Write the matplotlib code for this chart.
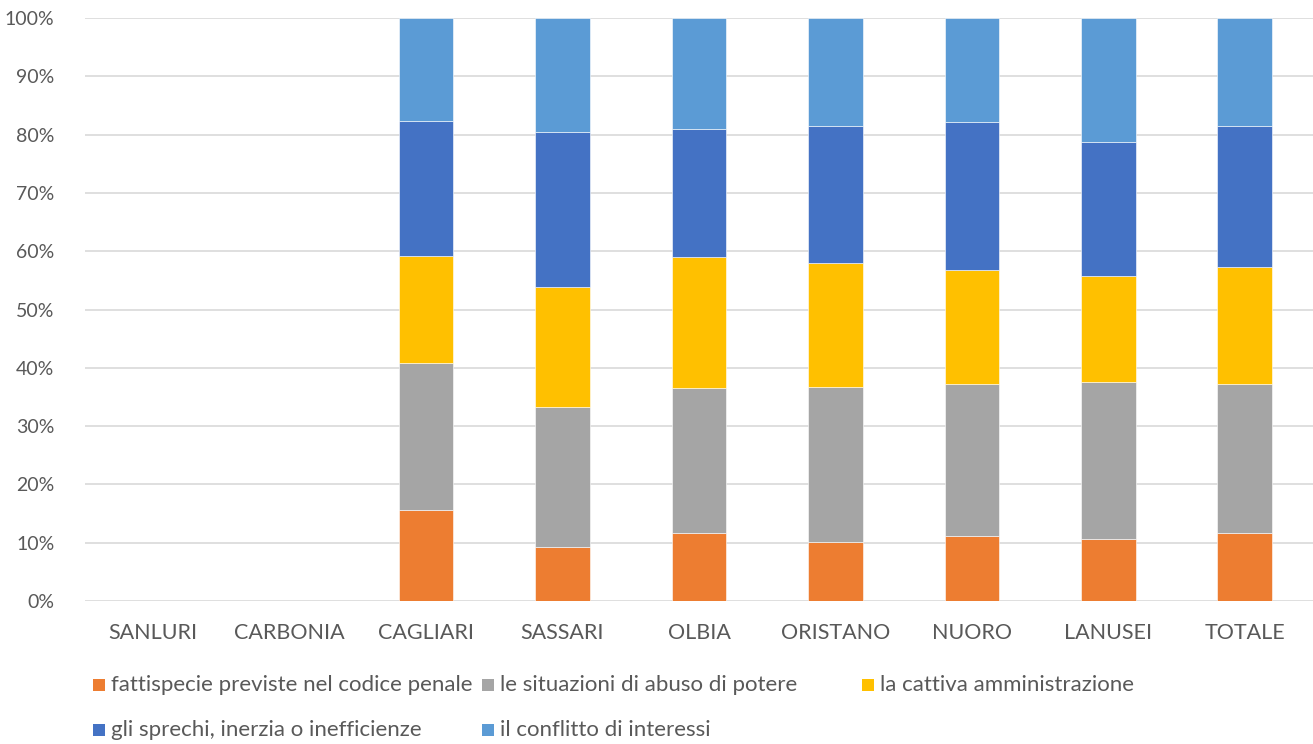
import matplotlib
matplotlib.use('Agg')
import matplotlib.pyplot as plt
from matplotlib.patches import Rectangle
from matplotlib.ticker import PercentFormatter

plt.rcParams['font.family'] = ['Lato', 'DejaVu Sans']

# Dati (percentuali per ogni sede)
sedi = ['SANLURI', 'CARBONIA', 'CAGLIARI', 'SASSARI', 'OLBIA',
        'ORISTANO', 'NUORO', 'LANUSEI', 'TOTALE']

fattispecie = [0, 0, 15.6, 9.2, 11.6, 10.1, 11.1, 10.6, 11.6]
abuso_potere = [0, 0, 25.3, 24.0, 25.0, 26.6, 26.2, 27.0, 25.6]
cattiva_amm = [0, 0, 18.3, 20.7, 22.4, 21.3, 19.4, 18.2, 20.1]
sprechi = [0, 0, 23.2, 26.6, 21.9, 23.4, 25.5, 23.0, 24.1]
conflitto = [0, 0, 17.6, 19.5, 19.1, 18.6, 17.8, 21.2, 18.6]

serie = [
    ('fattispecie previste nel codice penale', fattispecie, '#ED7D31'),
    ('le situazioni di abuso di potere', abuso_potere, '#A5A5A5'),
    ('la cattiva amministrazione', cattiva_amm, '#FFC000'),
    ('gli sprechi, inerzia o inefficienze', sprechi, '#4472C4'),
    ('il conflitto di interessi', conflitto, '#5B9BD5'),
]

testo = '#595959'

fig = plt.figure(figsize=(13.13, 7.44), dpi=100)
ax = fig.add_axes([0.0647, 0.1922, 0.9353, 0.7836])

x = list(range(len(sedi)))
base = [0.0] * len(sedi)
for nome, valori, colore in serie:
    ax.bar(x, valori, bottom=base, width=0.4, color=colore,
           edgecolor='white', linewidth=0.4, zorder=3)
    base = [b + v for b, v in zip(base, valori)]

ax.set_xlim(-0.5, len(sedi) - 0.5)
ax.set_ylim(0, 100)
ax.set_yticks(range(0, 101, 10))
ax.yaxis.set_major_formatter(PercentFormatter(decimals=0))
ax.set_xticks(x)
ax.set_xticklabels(sedi)
ax.tick_params(axis='both', length=0, labelcolor=testo)
ax.tick_params(axis='y', pad=22, labelsize=14)
ax.tick_params(axis='x', pad=16, labelsize=15.5)
ax.grid(axis='y', color='#D9D9D9', linewidth=1.2, zorder=0)
for s in ax.spines.values():
    s.set_visible(False)

# Legenda disegnata a mano (colonne di larghezza uguale come in Excel)
col_x = [93, 482, 862]
row_y = [685, 730]
W, H = 1313.0, 744.0
for i, (nome, valori, colore) in enumerate(serie):
    r, c = divmod(i, 3)
    px, py = col_x[c], row_y[r]
    fig.patches.append(Rectangle((px / W, 1 - (py + 6) / H), 12 / W, 12 / H,
                                 transform=fig.transFigure,
                                 facecolor=colore, edgecolor='none'))
    fig.text((px + 18) / W, 1 - py / H, nome, fontsize=16,
             color=testo, va='center', ha='left')

fig.savefig('out.png', dpi=100)
